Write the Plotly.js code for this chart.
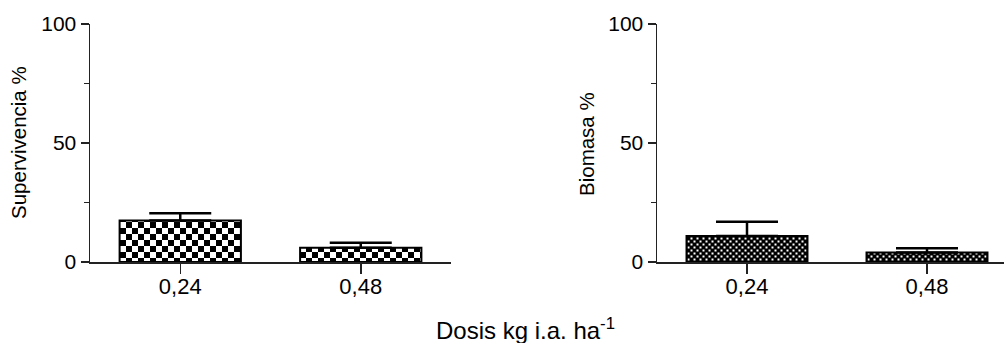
<!DOCTYPE html>
<html>
<head>
<meta charset="utf-8">
<script src="https://cdn.plot.ly/plotly-3.0.1.min.js"></script>
<style>html,body{margin:0;padding:0;background:#fff;} #chart{width:1004px;height:343px;}</style>
</head>
<body>
<div id="chart"></div>
<script>
const categories = ['0,24', '0,48'];
const survival = [17.4, 6.0];
const survivalErr = [3.1, 2.1];
const biomass = [10.9, 4.0];
const biomassErr = [6.0, 1.8];
const yTickVals = [0, 50, 100];
const yTickText = ['0', '50', '100'];
const xTitle = 'Dosis kg i.a. ha<sup>-1</sup>';
const yTitleLeft = 'Supervivencia %';
const yTitleRight = 'Biomasa %';

const W = 1004, H = 343;
const FONT = 'Liberation Sans, Arial, sans-serif';

function barTrace(y, err, xa, ya) {
  return {
    type: 'bar', x: categories, y: y, xaxis: xa, yaxis: ya,
    width: 0.672,
    marker: {color: '#000', line: {color: '#000', width: 2}},
    error_y: {type: 'data', array: err, symmetric: false, arrayminus: [0, 0],
              color: '#000', thickness: 2.5, width: 31},
    hoverinfo: 'skip', showlegend: false
  };
}

const data = [
  barTrace(survival, survivalErr, 'x', 'y'),
  barTrace(biomass, biomassErr, 'x2', 'y2')
];

const yDom = [(H - 262) / H, (H - 24) / H];
function yAxis(anchor) {
  return {
    domain: yDom, anchor: anchor, range: [0, 100], tickvals: yTickVals, ticktext: yTickText,
    showgrid: false, zeroline: false, showline: true, linecolor: '#222', linewidth: 1.5,
    ticks: 'outside', ticklen: 8, tickwidth: 1.5, tickcolor: '#222',
    minor: {tickvals: [25, 75], ticks: 'outside', ticklen: 5, tickwidth: 1.5, tickcolor: '#222'},
    tickfont: {family: FONT, size: 21, color: '#000'}, fixedrange: true
  };
}
function xAxis(domain, range, anchor) {
  return {
    domain: domain, anchor: anchor, type: 'category', range: range,
    showgrid: false, zeroline: false, showline: true, linecolor: '#222', linewidth: 1.5,
    ticks: 'outside', ticklen: 10, tickwidth: 1.5, tickcolor: '#222',
    ticklabelstandoff: -6,
    tickfont: {family: FONT, size: 22, color: '#000'}, fixedrange: true
  };
}

const layout = {
  width: W, height: H,
  margin: {l: 0, r: 0, t: 0, b: 0},
  paper_bgcolor: '#fff', plot_bgcolor: 'rgba(0,0,0,0)',
  xaxis: xAxis([90 / W, 451 / W], [-0.5, 1.5], 'y'),
  yaxis: yAxis('x'),
  xaxis2: xAxis([657 / W, 1], [-0.5, -0.5 + (W - 657) / 180], 'y2'),
  yaxis2: yAxis('x2'),
  annotations: [
    {text: xTitle, xref: 'paper', yref: 'paper', x: 525 / W, y: (H - 329) / H,
     xanchor: 'center', yanchor: 'middle', showarrow: false,
     font: {family: FONT, size: 24, color: '#000'}},
    {text: yTitleLeft, xref: 'paper', yref: 'paper', x: 18 / W, y: (H - 143) / H,
     xanchor: 'center', yanchor: 'middle', textangle: -90, showarrow: false,
     font: {family: FONT, size: 20.5, color: '#000'}},
    {text: yTitleRight, xref: 'paper', yref: 'paper', x: 586 / W, y: (H - 144) / H,
     xanchor: 'center', yanchor: 'middle', textangle: -90, showarrow: false,
     font: {family: FONT, size: 20.5, color: '#000'}}
  ]
};

Plotly.newPlot('chart', data, layout, {staticPlot: true, displayModeBar: false}).then(function (gd) {
  const NS = 'http://www.w3.org/2000/svg';
  const svg = gd.querySelector('svg.main-svg');
  let defs = svg.querySelector('defs');
  if (!defs) { defs = document.createElementNS(NS, 'defs'); svg.insertBefore(defs, svg.firstChild); }
  function makePattern(id, cell, hole) {
    const p = document.createElementNS(NS, 'pattern');
    p.setAttribute('id', id);
    p.setAttribute('patternUnits', 'userSpaceOnUse');
    p.setAttribute('width', 2 * cell);
    p.setAttribute('height', 2 * cell);
    const bg = document.createElementNS(NS, 'rect');
    bg.setAttribute('width', 2 * cell); bg.setAttribute('height', 2 * cell); bg.setAttribute('fill', '#000');
    p.appendChild(bg);
    const off = (cell - hole) / 2;
    [[0, 0], [cell, cell]].forEach(function (o) {
      const r = document.createElementNS(NS, 'rect');
      r.setAttribute('x', o[0] + off); r.setAttribute('y', o[1] + off);
      r.setAttribute('width', hole); r.setAttribute('height', hole); r.setAttribute('fill', '#fff');
      p.appendChild(r);
    });
    defs.appendChild(p);
  }
  makePattern('checkBig', 6, 6);
  makePattern('checkSmall', 3, 2);
  const traces = gd.querySelectorAll('.barlayer .trace');
  traces.forEach(function (t, i) {
    t.querySelectorAll('.point path').forEach(function (p) {
      p.style.fill = 'url(#' + (i === 0 ? 'checkBig' : 'checkSmall') + ')';
    });
  });
});
</script>
</body>
</html>
